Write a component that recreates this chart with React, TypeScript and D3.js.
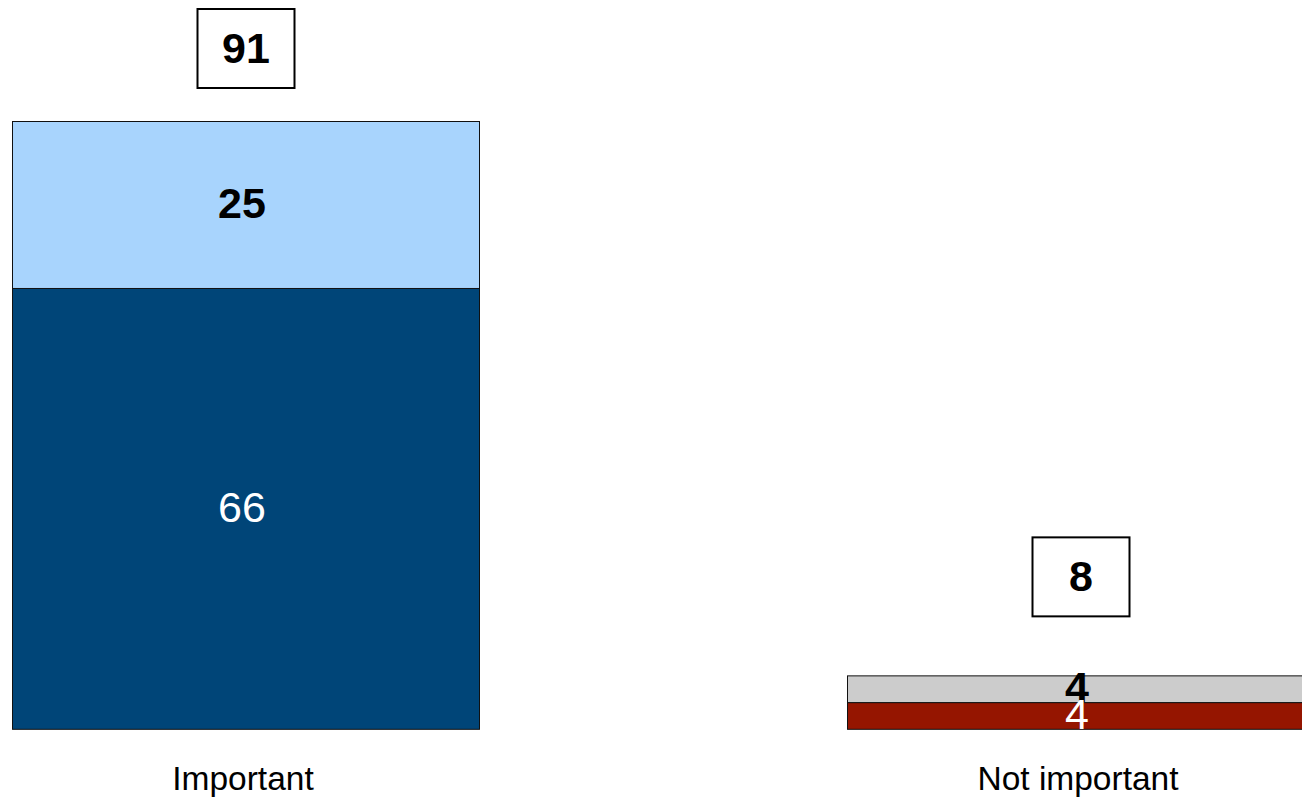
import React from "react";
import * as d3 from "d3";

const categories = ["Important", "Not important"];
const bottomValues = [66, 4];
const topValues = [25, 4];
const totals = [91, 8];

const bottomColors = ["#004578", "#951500"];
const topColors = ["#A8D4FD", "#CCCCCC"];
const bottomTextColors = ["#ffffff", "#ffffff"];

export default function App() {
  const W = 1302;
  const H = 798;
  const step = 835;
  const bw = 467;
  const x = d3.scalePoint<string>().domain(categories).range([12.5, 12.5 + step]);
  const y = d3.scaleLinear().domain([0, 91]).range([729.3, 121.5]);
  const font = "'Liberation Sans', Arial, sans-serif";

  return (
    <svg width={W} height={H} style={{ position: "absolute", left: 0, top: 0 }} fontFamily={font}>
      <defs>
        <clipPath id="plot">
          <rect x={0} y={0} width={W} height={729.5} />
        </clipPath>
      </defs>
      {categories.map((c, i) => {
        const x0 = x(c) as number;
        const cx = x0 + bw / 2;
        const yb0 = y(0);
        const yb1 = y(bottomValues[i]);
        const yt1 = y(bottomValues[i] + topValues[i]);
        const boxCy = Math.max(y(totals[i]) - 99, 48.5);
        return (
          <g key={c}>
            <rect x={x0} y={yb1} width={bw} height={yb0 - yb1} fill={bottomColors[i]} stroke="#111" strokeWidth={1} />
            <rect x={x0} y={yt1} width={bw} height={yb1 - yt1} fill={topColors[i]} stroke="#111" strokeWidth={1} />
            <g clipPath="url(#plot)">
              <text x={cx - 4} y={(yt1 + yb1) / 2 - 2} textAnchor="middle" dominantBaseline="central" fontSize={43} fontWeight="bold" fill="#000">
                {topValues[i]}
              </text>
              <text x={cx - 4} y={(yb1 + yb0) / 2 - 2} textAnchor="middle" dominantBaseline="central" fontSize={43} fill={bottomTextColors[i]}>
                {bottomValues[i]}
              </text>
            </g>
            <rect x={cx - 48.5} y={boxCy - 39.5} width={97} height={79} fill="#fff" stroke="#000" strokeWidth={2} />
            <text x={cx} y={boxCy - 1} textAnchor="middle" dominantBaseline="central" fontSize={43} fontWeight="bold" fill="#000">
              {totals[i]}
            </text>
            <text x={cx - 3} y={778} textAnchor="middle" dominantBaseline="central" fontSize={33.5} fill="#000">
              {c}
            </text>
          </g>
        );
      })}
    </svg>
  );
}
